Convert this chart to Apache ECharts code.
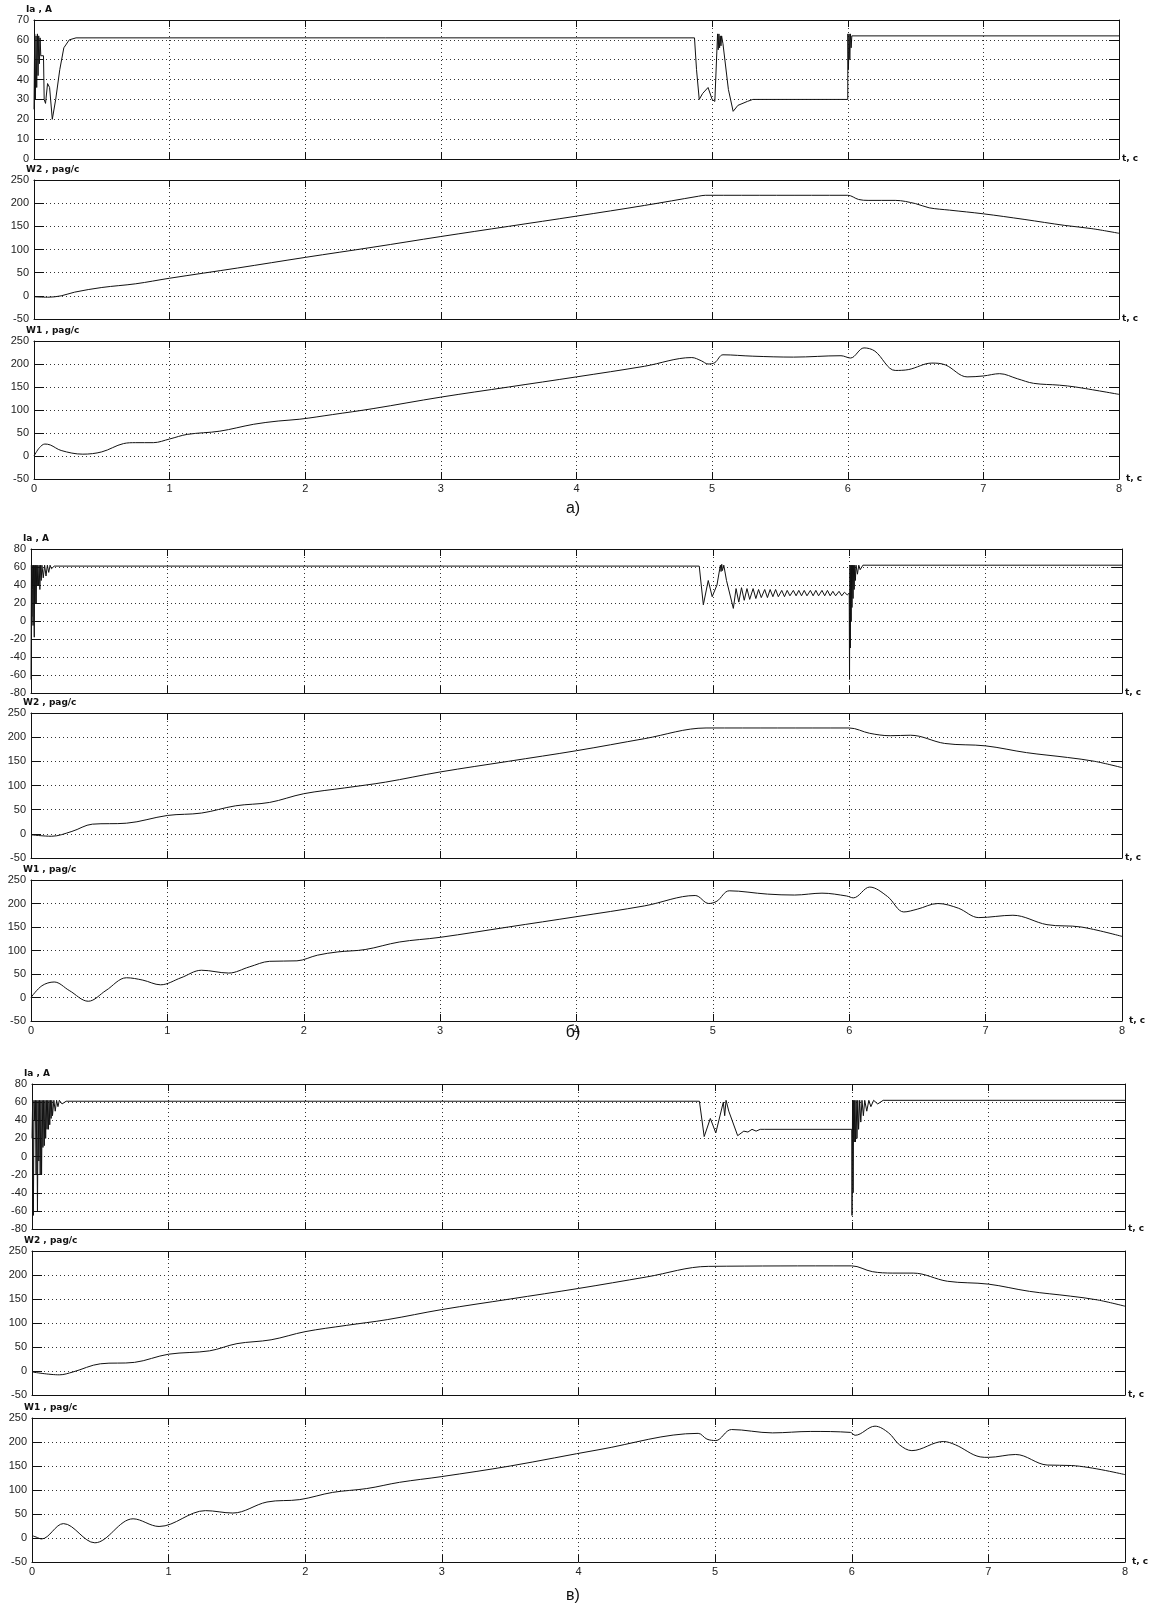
<!DOCTYPE html>
<html>
<head>
<meta charset="utf-8">
<script src="https://cdn.jsdelivr.net/npm/echarts@6/dist/echarts.min.js"></script>
<style>
  html, body { margin: 0; padding: 0; background: #fff; }
  #main { width: 1152px; height: 1604px; }
</style>
</head>
<body>
<div id="main"></div>
<script>
// time ticks, axis ranges and captions
const timeTicks = [0, 1, 2, 3, 4, 5, 6, 7, 8];
const iaRangeA = [0, 70, 10];
const iaRange = [-80, 80, 20];
const wRange = [-50, 250, 50];
const captions = ['а)', 'б)', 'в)'];

// а) [t, c ; value]
const iaA = [[0,25],[0.005,63],[0.01,30],[0.015,62],[0.02,36],[0.025,63],[0.03,42],[0.035,62],[0.04,48],[0.045,61],[0.05,52],[0.07,52],
  [0.075,30],[0.085,28],[0.1,38],[0.115,36],[0.135,20],[0.16,30],[0.19,45],[0.22,56],[0.26,60],[0.31,61],
  [4.87,61],[4.885,45],[4.905,30],[4.93,33],[4.97,36],[5.0,30],[5.02,29],[5.04,63],[5.045,55],[5.05,63],[5.055,56],[5.06,62],[5.065,57],[5.07,62],[5.08,58],[5.09,57],
  [5.12,35],[5.155,24],[5.19,27],[5.26,29],[5.3,30],[6.0,30],[6.001,63],[6.005,45],[6.01,63],[6.015,50],[6.02,63],[6.025,56],[6.03,62],[6.04,62],[8,62]];
const w2A = [[0,-2],[0.1,-3],[0.2,0],[0.3,8],[0.5,18],[0.75,26],[1,38],[1.5,60],[2,83],[2.5,105],[3,128],[3.5,150],[4,172],[4.5,195],
  [4.9,215],[4.95,217],[6,217],[6.08,208],[6.15,206],[6.35,206],[6.5,199],[6.6,190],[6.75,185],[7,177],[7.3,165],[7.6,152],[7.8,145],[8,135]];
const w1A = [[0,0],[0.04,18],[0.08,26],[0.12,24],[0.2,12],[0.36,4],[0.5,9],[0.66,27],[0.75,29],[0.88,29],[1,37],[1.13,47],[1.37,54],
  [1.62,69],[1.8,76],[1.96,80],[2.2,90],[2.5,103],[3,128],[3.5,150],[4,172],[4.5,195],[4.85,214],[4.92,207],[4.97,200],[5.02,203],
  [5.08,220],[5.3,217],[5.6,215],[5.95,218],[6.02,213],[6.12,235],[6.2,228],[6.35,186],[6.45,188],[6.62,202],[6.72,198],[6.88,172],
  [7.0,174],[7.12,179],[7.25,168],[7.37,158],[7.56,154],[7.68,150],[8,134]];

// б)
const iaB = [[0,-65],[0.003,62],[0.006,5],[0.009,62],[0.012,35],[0.015,-5],[0.018,62],[0.021,22],[0.024,-18],[0.027,62],[0.03,20],
  [0.034,62],[0.038,20],[0.042,62],[0.046,40],[0.05,62],[0.055,40],[0.06,62],[0.065,35],[0.07,62],[0.075,45],[0.08,62],[0.09,48],
  [0.1,62],[0.11,50],[0.12,62],[0.13,54],[0.14,62],[0.15,58],[0.17,61],
  [4.9,61],[4.93,18],[4.966,45],[4.995,27],[5.03,40],[5.055,62],[5.06,55],[5.065,63],[5.07,56],[5.08,62],[5.1,45],[5.15,14],
  [5.17,36],[5.19,21],[5.21,37],[5.23,23],[5.25,36],[5.27,24],[5.295,36],[5.315,25],[5.335,35],[5.355,26],[5.38,35],[5.4,26],
  [5.42,35],[5.44,27],[5.46,35],[5.48,27],[5.505,34],[5.525,27],[5.545,34],[5.565,28],[5.59,34],[5.61,28],[5.63,34],[5.65,28],
  [5.67,34],[5.69,28],[5.715,34],[5.735,28],[5.755,34],[5.775,28],[5.8,34],[5.82,28],[5.84,34],[5.86,28],[5.88,33],[5.9,28],
  [5.925,33],[5.945,28],[5.965,32],[5.985,29],[6.0,31],
  [6.002,-65],[6.005,62],[6.008,-30],[6.011,62],[6.014,0],[6.017,62],[6.02,15],[6.024,62],[6.028,25],[6.032,62],[6.036,35],
  [6.04,62],[6.045,45],[6.05,62],[6.06,52],[6.07,62],[6.08,57],[6.1,62],[8,62]];
const w2B = [[0,-2],[0.15,-5],[0.3,5],[0.45,20],[0.7,22],[1,38],[1.25,43],[1.5,58],[1.75,65],[2,83],[2.3,95],[2.6,107],[3,128],
  [3.5,150],[4,172],[4.5,197],[4.95,219],[6,219],[6.15,208],[6.3,203],[6.45,204],[6.7,187],[7,182],[7.3,168],[7.6,158],[7.8,150],[8,137]];
const w1B = [[0,0],[0.08,25],[0.17,33],[0.28,15],[0.42,-8],[0.55,15],[0.7,42],[0.82,37],[0.95,27],[1.1,42],[1.25,58],[1.45,52],
  [1.6,65],[1.75,77],[1.95,78],[2.1,90],[2.25,97],[2.45,102],[2.7,118],[3,128],[3.5,150],[4,172],[4.5,195],[4.87,217],[4.97,200],
  [5.03,205],[5.12,227],[5.4,220],[5.6,218],[5.8,222],[5.98,216],[6.03,212],[6.15,235],[6.28,215],[6.4,182],[6.5,188],[6.65,200],
  [6.8,190],[6.95,170],[7.2,175],[7.45,155],[7.7,150],[8,130]];

// в)
const iaV = [[0,20],[0.005,62],[0.01,-65],[0.015,62],[0.02,40],[0.025,62],[0.03,-20],[0.035,62],[0.04,-60],[0.045,62],[0.05,-5],
  [0.055,62],[0.06,-20],[0.065,62],[0.07,-20],[0.075,62],[0.08,10],[0.085,62],[0.09,12],[0.095,62],[0.1,20],[0.105,62],[0.11,30],
  [0.115,62],[0.12,30],[0.125,62],[0.13,35],[0.135,62],[0.14,42],[0.145,62],[0.15,45],[0.16,62],[0.17,50],[0.18,62],[0.19,55],
  [0.2,62],[0.22,58],[0.25,61],
  [4.885,61],[4.92,22],[4.965,42],[5.005,26],[5.06,60],[5.07,45],[5.08,62],[5.1,50],[5.165,23],[5.21,28],[5.24,27],[5.27,30],
  [5.3,28],[5.33,30],[5.36,30],[6.0,30],
  [6.002,-65],[6.006,62],[6.01,-40],[6.014,62],[6.018,16],[6.022,62],[6.027,16],[6.032,62],[6.038,20],[6.044,62],[6.05,30],
  [6.058,62],[6.066,38],[6.075,62],[6.085,45],[6.095,62],[6.11,50],[6.125,62],[6.14,55],[6.16,62],[6.19,58],[6.23,62],[8,62]];
const w2V = [[0,-2],[0.2,-8],[0.3,-2],[0.5,15],[0.75,18],[1,35],[1.3,42],[1.5,57],[1.75,65],[2,82],[2.3,95],[2.6,107],[3,128],
  [3.5,150],[4,172],[4.5,196],[4.95,218],[6,219],[6.15,207],[6.3,204],[6.45,204],[6.7,187],[7,181],[7.3,166],[7.6,156],[7.8,148],[8,135]];
const w1V = [[0,5],[0.03,2],[0.07,-2],[0.23,30],[0.46,-10],[0.74,40],[0.93,24],[1.27,57],[1.47,52],[1.72,75],[1.96,80],[2.2,95],
  [2.45,103],[2.69,116],[3,128],[3.5,150],[4.15,184],[4.876,218],[4.94,206],[5.005,203],[5.12,226],[5.42,219],[5.7,222],[5.99,220],
  [6.025,214],[6.17,233],[6.27,219],[6.35,194],[6.44,182],[6.67,201],[6.76,194],[6.94,169],[7,168],[7.2,174],[7.43,152],[7.61,151],[8,132]];

const panels = [
  { data: iaA, range: iaRangeA, name: 'Ia , A', left: 34, width: 1085, top: 20, height: 139, labels: false, smooth: false },
  { data: w2A, range: wRange, name: 'W2 , pag/c', left: 34, width: 1085, top: 180, height: 139, labels: false, smooth: true },
  { data: w1A, range: wRange, name: 'W1 , pag/c', left: 34, width: 1085, top: 341, height: 138, labels: true, smooth: true },
  { data: iaB, range: iaRange, name: 'Ia , A', left: 31, width: 1091, top: 549, height: 144, labels: false, smooth: false },
  { data: w2B, range: wRange, name: 'W2 , pag/c', left: 31, width: 1091, top: 713, height: 145, labels: false, smooth: true },
  { data: w1B, range: wRange, name: 'W1 , pag/c', left: 31, width: 1091, top: 880, height: 141, labels: true, smooth: true },
  { data: iaV, range: iaRange, name: 'Ia , A', left: 32, width: 1093, top: 1084, height: 145, labels: false, smooth: false },
  { data: w2V, range: wRange, name: 'W2 , pag/c', left: 32, width: 1093, top: 1251, height: 144, labels: false, smooth: true },
  { data: w1V, range: wRange, name: 'W1 , pag/c', left: 32, width: 1093, top: 1418, height: 144, labels: true, smooth: true }
];
const captionTop = [501, 1025, 1588];

const ink = '#111';
const dots = { color: '#333', width: 1, type: [1, 3] };
const labelFont = { color: '#222', fontSize: 11, fontFamily: 'Liberation Sans, Arial, sans-serif' };

const grid = [], xAxis = [], yAxis = [], series = [];
panels.forEach((p, i) => {
  grid.push({ left: p.left, top: p.top, width: p.width, height: p.height, containLabel: false });
  xAxis.push({
    type: 'value', gridIndex: i, min: timeTicks[0], max: timeTicks[timeTicks.length - 1], interval: 1,
    axisLine: { onZero: false, lineStyle: { color: ink, width: 1 } },
    axisTick: { inside: true, length: 7, lineStyle: { color: ink } },
    axisLabel: { show: p.labels, margin: 4, ...labelFont },
    splitLine: { show: true, lineStyle: dots },
    name: 't, c', nameLocation: 'end', nameGap: 3,
    nameTextStyle: { fontSize: 9, fontWeight: 'bold', color: ink, fontFamily: 'DejaVu Sans', verticalAlign: 'middle' }
  });
  xAxis.push({
    type: 'value', gridIndex: i, position: 'top', min: timeTicks[0], max: timeTicks[timeTicks.length - 1], interval: 1,
    axisLine: { onZero: false, lineStyle: { color: ink, width: 1 } },
    axisTick: { inside: true, length: 7, lineStyle: { color: ink } },
    axisLabel: { show: false }, splitLine: { show: false }
  });
  yAxis.push({
    type: 'value', gridIndex: i, min: p.range[0], max: p.range[1], interval: p.range[2],
    axisLine: { show: true, onZero: false, lineStyle: { color: ink, width: 1 } },
    axisTick: { show: true, inside: true, length: 10, lineStyle: { color: ink } },
    axisLabel: { margin: 5, ...labelFont },
    splitLine: { show: true, lineStyle: dots },
    name: p.name, nameLocation: 'end', nameGap: 3,
    nameTextStyle: { align: 'left', padding: [0, 0, 0, -8], fontSize: 9, fontWeight: 'bold', color: ink, fontFamily: 'DejaVu Sans' }
  });
  yAxis.push({
    type: 'value', gridIndex: i, position: 'right', min: p.range[0], max: p.range[1], interval: p.range[2],
    axisLine: { show: true, onZero: false, lineStyle: { color: ink, width: 1 } },
    axisTick: { show: true, inside: true, length: 10, lineStyle: { color: ink } },
    axisLabel: { show: false }, splitLine: { show: false }
  });
  series.push({
    type: 'line', xAxisIndex: 2 * i, yAxisIndex: 2 * i, data: p.data,
    showSymbol: false, smooth: p.smooth ? 0.35 : false, sampling: null,
    lineStyle: { color: ink, width: 1 }, silent: true
  });
});

const title = captions.map((c, i) => ({
  text: c, left: 573, top: captionTop[i], textAlign: 'center', padding: 0,
  textStyle: { fontSize: 16, fontWeight: 'normal', color: '#111', fontFamily: 'Liberation Sans, Arial, sans-serif' }
}));

const chart = echarts.init(document.getElementById('main'));
chart.setOption({
  animation: false,
  backgroundColor: '#fff',
  title: title,
  grid: grid,
  xAxis: xAxis,
  yAxis: yAxis,
  series: series
});
</script>
</body>
</html>
